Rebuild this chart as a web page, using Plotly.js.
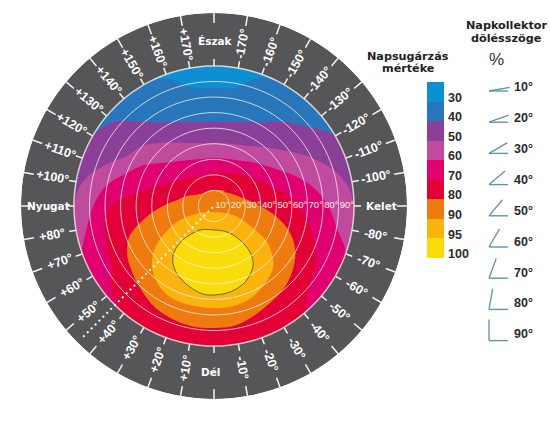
<!DOCTYPE html>
<html><head><meta charset="utf-8">
<script src="https://cdn.plot.ly/plotly-3.0.1.min.js"></script>
<style>html,body{margin:0;padding:0;background:#fff}</style></head>
<body><div id="chart" style="width:550px;height:427px"></div>
<script>
// Azimuths (deg, 0 = south, + = west) at which each contour's tilt is read
const azimuths = [-180,-170,-160,-150,-140,-130,-120,-110,-100,-90,-80,-70,-60,-50,-40,-30,-20,-10,0,10,20,30,40,50,60,70,80,90,100,110,120,130,140,150,160,170];
// Tilt of each radiation contour at those azimuths (90 = edge of disc)
const contour40 = [76,77,88,90,90,90,90,90,90,90,90,90,90,90,90,90,90,90,90,90,90,90,90,90,90,90,90,90,90,90,90,90,90,90,87,77];
const contour50 = [54,55,57.5,62,70.5,79,90,90,90,90,90,90,90,90,90,90,90,90,90,90,90,90,90,90,90,90,90,90,90,90,90,84,70.5,62,57.5,55];
const contour60 = [40.5,41,42,44.5,49.5,56,66,77,86,90,90,90,90,90,90,90,90,90,90,90,90,90,90,90,90,90,90,90,86,75.5,64.5,60,53,47,43,41];
const contour70 = [31,31,32,33.5,37,41,47,56,65.5,73.5,80,90,90,90,90,90,90,90,90,90,90,90,90,90,90,90,83,77.5,71,60.5,52.5,43,37.3,33.9,31.9,31];
const contour80 = [20.6,21.5,22.5,24.4,27,29.6,33,38,46,54,61.5,69,75.5,80,89.5,90,90,90,90,90,90,90,90,85.5,76.5,73.5,71,66,50,38,31,26.8,23.7,21.8,20.8,20.4];
const contour90 = [10.3,10.5,11,11.6,11.6,12.9,14.8,17.4,22,29.6,41,52.4,60.4,65.6,69.5,72,75,78,78.4,78.6,77.5,75.5,71.7,68,64.3,58,45,32.8,23.5,18.7,14,12.1,10.9,10.5,10.3,10.3];
// Inner ovals do not enclose the centre: (azimuth, tilt) pairs
const oval95Az   = [0,-64.7,-60.6,-55.8,-49.8,-43.6,-26.3,-13,2.2,22.5,33.7,45.5,51.2,54.6,61.1,67.6,63.4,0];
const oval95Tilt = [3.9,13.5,28.8,41.2,48.8,55,62.4,65.3,65.6,65.4,62.6,55.9,50.3,46.5,36,23.6,10,3.9];
const oval100Az   = [0,-26.6,-37.4,-38,-34.9,-30.7,-22.2,-10.5,2.6,9.1,20.6,31.4,39.9,42.4,30.3,0];
const oval100Tilt = [15.4,18.7,27.5,37.5,43.9,47.8,52.8,56.2,57.3,56.6,52.9,48.2,41,29.6,17.9,15.4];
// Colour scale
const levels = [30,40,50,60,70,80,90,95,100];
const levelColors = ['#0c8fd3','#2a76bc','#8b3f99','#c04a9d','#e1006f','#e30036','#ee7a10','#fbb40e','#fadc0b'];
// Dial
const tiltRings = [10,20,30,40,50,60,70,80,90];
const azimuthLabels = [10,20,30,40,50,60,70,80,100,110,120,130,140,150,160,170];
const collectorTilts = [10,20,30,40,50,60,70,80,90];
const ringColor = '#565557';

const closed = a => a.concat([a[0]]);
const fullCircle = []; for (let t=-180;t<=180;t+=3) fullCircle.push(t);

const polarFill = (theta,r,color,line) => ({type:'scatterpolar',subplot:'polar',mode:'lines',theta,r,fill:'toself',fillcolor:color,line:Object.assign({color:color,width:0,shape:'spline'},line||{}),hoverinfo:'skip'});

const traces = [];
// disc and contours
traces.push(Object.assign(polarFill(fullCircle,fullCircle.map(()=>90),levelColors[0]),{line:{color:levelColors[0],width:0}}));
[contour40,contour50,contour60,contour70,contour80,contour90].forEach((c,i)=>{
  traces.push(polarFill(closed(azimuths),closed(c),levelColors[i+1]));
});
traces.push(polarFill(oval95Az,oval95Tilt,levelColors[7]));
traces.push(polarFill(oval100Az,oval100Tilt,levelColors[8],{color:'#5f6a2a',width:1}));
// dark outer ring, drawn over the contour edges
const ringTheta = fullCircle.concat(fullCircle.slice().reverse());
const ringR = fullCircle.map(()=>124).concat(fullCircle.map(()=>90));
traces.push({type:'scatterpolar',subplot:'polar',mode:'lines',theta:ringTheta,r:ringR,fill:'toself',fillcolor:ringColor,line:{color:ringColor,width:0},hoverinfo:'skip'});
// tilt rings
tiltRings.forEach(t=>{
  traces.push({type:'scatterpolar',subplot:'polar',mode:'lines',theta:fullCircle,r:fullCircle.map(()=>t),line:{color:'rgba(255,245,240,0.75)',width:t===90?1.5:1},hoverinfo:'skip'});
});
// azimuth ticks
const tickTheta=[],tickR=[];
for(let az=-170;az<=180;az+=10){tickTheta.push(az,az,null,az,az,null);tickR.push(90,94.5,null,117.5,124,null);}
traces.push({type:'scatterpolar',subplot:'polar',mode:'lines',theta:tickTheta,r:tickR,line:{color:'#f4f4f4',width:1.5},hoverinfo:'skip'});
// dotted guide
traces.push({type:'scatterpolar',subplot:'polar',mode:'lines',theta:[45,45],r:[1,120],line:{color:'#fff8e0',width:2,dash:'2px,3.5px'},hoverinfo:'skip'});
// tilt labels
traces.push({type:'scatterpolar',subplot:'polar',mode:'text',theta:tiltRings.map(()=>-90),r:tiltRings,text:tiltRings.map(t=>t+'°'),textposition:'middle left',textfont:{family:'Liberation Sans',size:9.5,color:'#fff5df'},hoverinfo:'skip'});

// colour scale bar
traces.push({type:'bar',xaxis:'x',yaxis:'y',x:levels.map(()=>0),y:levels.map(()=>1),base:levels.map((l,i)=>i),width:1,marker:{color:levelColors,line:{width:0}},hoverinfo:'skip'});

// collector tilt icons
const rowY = i => 21+31.2*i;
const labelY = i => 18+30.9*i;
const iconLen = 21;
collectorTilts.forEach((t,i)=>{
  const a=t*Math.PI/180;
  traces.push({type:'scatter',xaxis:'x2',yaxis:'y2',mode:'lines',
    x:[iconLen*Math.cos(a)+9,9],y:[rowY(i)-iconLen*Math.sin(a),rowY(i)],line:{color:'#6d8f9c',width:1.3},hoverinfo:'skip'});
  traces.push({type:'scatter',xaxis:'x2',yaxis:'y2',mode:'lines',
    x:[9,28],y:[rowY(i),rowY(i)],line:{color:'#5a94b8',width:1.4},hoverinfo:'skip'});
});
traces.push({type:'scatter',xaxis:'x2',yaxis:'y2',mode:'text',x:collectorTilts.map(()=>34),y:collectorTilts.map((t,i)=>labelY(i)),
  text:collectorTilts.map(t=>t+'°'),textposition:'middle right',textfont:{family:'Liberation Sans',size:12.5,color:'#2b2b2b',weight:'bold'},hoverinfo:'skip'});

// dial geometry, used to place rotated labels
const W=550,H=427,cx=214,cy=206,R=193,rMax=124;
const px = (az,t)=>{const a=az*Math.PI/180,r=t*R/rMax;return {x:(cx-r*Math.sin(a))/W,y:1-(cy+r*Math.cos(a))/H};};
const annotations=[];
azimuthLabels.forEach(v=>{
  [[v,'+'+v+'°',v-90],[-v,'-'+v+'°',90-v]].forEach(([az,text,ang])=>{
    const p=px(az,105.5);
    annotations.push({xref:'paper',yref:'paper',x:p.x,y:p.y,text,textangle:ang,showarrow:false,xanchor:'center',yanchor:'middle',
      font:{family:'Liberation Sans',size:12.5,color:'#ffffff',weight:'bold'}});
  });
});
const dirFont={family:'DejaVu Sans',size:10.5,color:'#ffffff',weight:'bold'};
const pap=(x,y)=>({x:x/W,y:1-y/H});
[['Észak',215,41],['Dél',211,372],['Nyugat',48,206],['Kelet',381,206]].forEach(([text,x,y])=>{
  annotations.push(Object.assign({xref:'paper',yref:'paper',text,showarrow:false,xanchor:'center',yanchor:'middle',font:dirFont},pap(x,y)));
});
const headFont={family:'DejaVu Sans',size:11.2,color:'#222222',weight:'bold'};
[['Napsugárzás',408,56],['mértéke',408,69],['Napkollektor',506,26],['dölésszöge',506,39]].forEach(([text,x,y])=>{
  annotations.push(Object.assign({xref:'paper',yref:'paper',text,showarrow:false,xanchor:'center',yanchor:'middle',font:headFont},pap(x,y)));
});
annotations.push(Object.assign({xref:'paper',yref:'paper',text:'%',showarrow:false,xanchor:'center',yanchor:'middle',font:{family:'Liberation Sans',size:17,color:'#333333'}},pap(496,60)));

const layout={
  width:W,height:H,margin:{l:0,r:0,t:0,b:0},paper_bgcolor:'#ffffff',plot_bgcolor:'rgba(0,0,0,0)',showlegend:false,bargap:0,
  polar:{domain:{x:[(cx-R)/W,(cx+R)/W],y:[1-(cy+R)/H,1-(cy-R)/H]},bgcolor:'rgba(0,0,0,0)',
    radialaxis:{visible:false,range:[0,rMax]},
    angularaxis:{visible:false,rotation:-90,direction:'clockwise'}},
  xaxis:{domain:[427/W,444/W],range:[-0.5,0.5],visible:false,fixedrange:true},
  yaxis:{domain:[1-258/H,1-82/H],range:[9,0],side:'right',anchor:'x',showgrid:false,zeroline:false,showline:false,ticks:'',
    tickmode:'array',tickvals:levels.map((l,i)=>i+0.78),ticktext:levels.map(String),ticklabelstandoff:3,
    tickfont:{family:'Liberation Sans',size:12.5,color:'#2b2b2b',weight:'bold'},fixedrange:true},
  xaxis2:{domain:[480/W,1],range:[0,70],visible:false,anchor:'y2',fixedrange:true},
  yaxis2:{domain:[1-350/H,1-70/H],range:[280,0],visible:false,anchor:'x2',fixedrange:true},
  annotations
};
Plotly.newPlot('chart',traces,layout,{displayModeBar:false,staticPlot:true});
</script></body></html>
